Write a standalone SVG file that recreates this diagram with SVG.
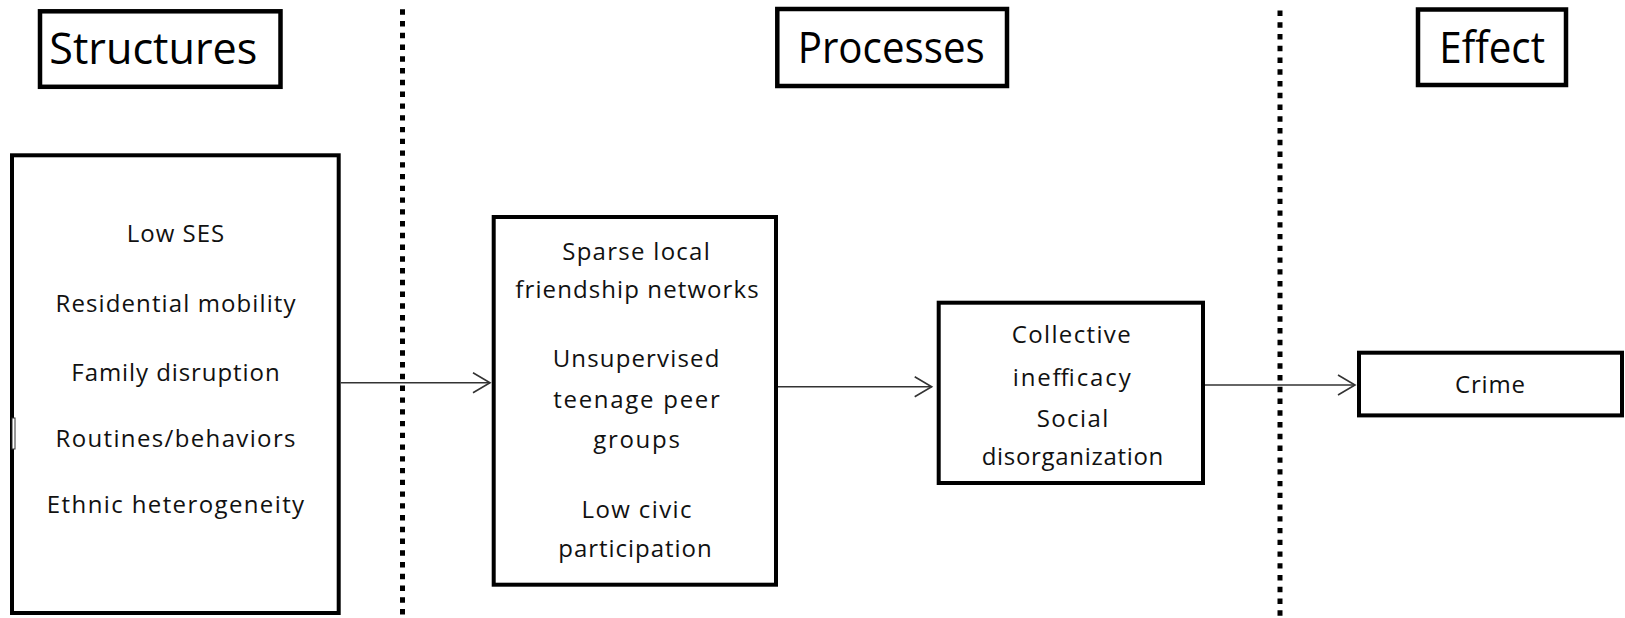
<svg xmlns="http://www.w3.org/2000/svg" width="1625" height="618" viewBox="0 0 1625 618">
<defs>
<marker id="arr" markerUnits="userSpaceOnUse" markerWidth="22" markerHeight="24" refX="18" refY="11" orient="auto">
<path d="M1,1 L18,11 L1,21" fill="none" stroke="#333" stroke-width="1.6"/>
</marker>
<style>
.hbox{fill:#fff;stroke:#000;stroke-width:4.5}
.box{fill:#fff;stroke:#000;stroke-width:4}
.htxt{font-family:"Open Sans","Noto Sans",sans-serif;font-size:44px;fill:#000}
.txt{font-family:"Open Sans","Noto Sans",sans-serif;font-size:24px;fill:#111;text-anchor:middle}
.div{stroke:#000;stroke-width:5;stroke-dasharray:5.4 6.36;fill:none}
.conn{stroke:#333;stroke-width:1.6;fill:none}
</style>
</defs>
<g id="dividers">
<line class="div" x1="402.5" y1="9.3" x2="402.5" y2="618"/>
<line class="div" x1="1280" y1="10.5" x2="1280" y2="618"/>
</g>
<g id="header-structures">
<rect class="hbox" x="40" y="11.3" width="240.5" height="75.5"/>
<text class="htxt" x="49.3" y="64" textLength="208" lengthAdjust="spacingAndGlyphs">Structures</text>
</g>
<g id="header-processes">
<rect class="hbox" x="777.3" y="9" width="229.7" height="77"/>
<text class="htxt" x="797.7" y="63.3" textLength="187" lengthAdjust="spacingAndGlyphs">Processes</text>
</g>
<g id="header-effect">
<rect class="hbox" x="1418" y="9.5" width="148" height="75.5"/>
<text class="htxt" x="1439.3" y="63.3" textLength="105.7" lengthAdjust="spacingAndGlyphs">Effect</text>
</g>
<g id="node-structures">
<rect class="box" x="12" y="155.3" width="326.7" height="457.7"/>
<rect x="12" y="418" width="3" height="31" fill="#fff" stroke="#333" stroke-width="1"/>
<text class="txt" x="175.5" y="241.7" textLength="97.3" lengthAdjust="spacing">Low SES</text>
<text class="txt" x="175.5" y="311.7" textLength="240" lengthAdjust="spacing">Residential mobility</text>
<text class="txt" x="175.5" y="380.7" textLength="208.3" lengthAdjust="spacing">Family disruption</text>
<text class="txt" x="175.5" y="446.7" textLength="240" lengthAdjust="spacing">Routines/behaviors</text>
<text class="txt" x="175.5" y="513.3" textLength="257.3" lengthAdjust="spacing">Ethnic heterogeneity</text>
</g>
<g id="node-processes">
<rect class="box" x="493.7" y="217" width="282.3" height="367.7"/>
<text class="txt" x="636" y="260" textLength="147.6" lengthAdjust="spacing">Sparse local</text>
<text class="txt" x="637" y="298.3" textLength="243.3" lengthAdjust="spacing">friendship networks</text>
<text class="txt" x="636" y="366.7" textLength="166.7" lengthAdjust="spacing">Unsupervised</text>
<text class="txt" x="636.5" y="408.3" textLength="166.7" lengthAdjust="spacing">teenage peer</text>
<text class="txt" x="636.5" y="448.3" textLength="86.7" lengthAdjust="spacing">groups</text>
<text class="txt" x="636.5" y="518.3" textLength="110" lengthAdjust="spacing">Low civic</text>
<text class="txt" x="635" y="556.7" textLength="153.3" lengthAdjust="spacing">participation</text>
</g>
<g id="node-collective">
<rect class="box" x="938.7" y="302.7" width="264.3" height="180.3"/>
<text class="txt" x="1071.2" y="343.3" textLength="119" lengthAdjust="spacing">Collective</text>
<text class="txt" x="1071.7" y="386" textLength="118" lengthAdjust="spacing">inefficacy</text>
<text class="txt" x="1072.5" y="426.7" textLength="71.7" lengthAdjust="spacing">Social</text>
<text class="txt" x="1072.5" y="465" textLength="181.6" lengthAdjust="spacing">disorganization</text>
</g>
<g id="node-crime">
<rect class="box" x="1359" y="352.7" width="263" height="62.7"/>
<text class="txt" x="1490" y="393.3" textLength="70" lengthAdjust="spacing">Crime</text>
</g>
<g id="connectors">
<line class="conn" x1="340.7" y1="382.7" x2="490" y2="382.7" marker-end="url(#arr)"/>
<line class="conn" x1="778" y1="386.7" x2="931.7" y2="386.7" marker-end="url(#arr)"/>
<line class="conn" x1="1205" y1="385" x2="1355" y2="385" marker-end="url(#arr)"/>
</g>
</svg>
